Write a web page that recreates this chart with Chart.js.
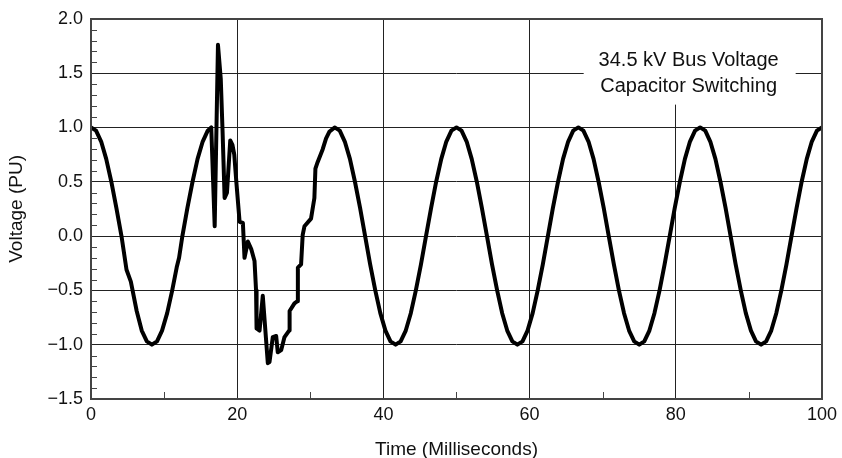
<!DOCTYPE html>
<html>
<head>
<meta charset="utf-8">
<script src="https://cdn.jsdelivr.net/npm/chart.js@4/dist/chart.umd.min.js"></script>
<style>
  html, body { margin: 0; padding: 0; background: #fff; }
  canvas { display: block; }
</style>
</head>
<body>
<canvas id="chart" width="842" height="458"></canvas>
<script>
// 34.5 kV bus voltage (per unit) around a capacitor switching event.

// Normal 60 Hz wave before the switch closes (ms, PU)
const preSwitchTime  = [0, 0.69, 1.39, 2.08, 2.78, 3.47, 4.17, 4.86, 5.45, 6.25, 6.94, 7.64, 8.33,
                        9.03, 9.72, 10.42, 11.11, 11.72, 12.05, 12.5, 13.19, 13.89, 14.58, 15.28, 15.97, 16.45];
const preSwitchVolts = [1.00, 0.97, 0.87, 0.71, 0.50, 0.26, 0.00, -0.31, -0.42, -0.69, -0.87, -0.97, -1.00,
                        -0.97, -0.87, -0.71, -0.50, -0.29, -0.20, 0.00, 0.26, 0.50, 0.71, 0.87, 0.97, 1.00];

// Switching transient
const transientTime  = [16.92, 17.37, 17.75, 18.0, 18.28, 18.6, 19.05, 19.35, 19.6, 19.88, 20.33, 20.78,
                        21.0, 21.46, 21.92, 22.37, 22.58, 22.65, 23.06, 23.5, 24.19, 24.42, 24.87, 25.33,
                        25.55, 26.02, 26.47, 27.1, 27.17, 27.83, 28.25, 28.3, 28.74, 28.96, 29.2, 30.1,
                        30.56, 30.7, 31.0, 31.7, 32.16, 32.6];
const transientVolts = [0.09, 1.76, 1.45, 0.96, 0.35, 0.40, 0.88, 0.84, 0.75, 0.50, 0.13, 0.12,
                        -0.20, -0.05, -0.12, -0.23, -0.50, -0.85, -0.87, -0.55, -1.17, -1.16, -0.93, -0.92,
                        -1.07, -1.05, -0.93, -0.87, -0.69, -0.62, -0.60, -0.29, -0.26, 0.01, 0.09, 0.16,
                        0.35, 0.62, 0.68, 0.80, 0.90, 0.96];

// Wave after the transient has settled
const steadyTime = [33.33, 34.03, 34.72, 35.42, 36.11, 36.81, 37.50, 38.19, 38.89, 39.58, 40.28, 40.97,
                    41.67, 42.36, 43.06, 43.75, 44.44, 45.14, 45.83, 46.53, 47.22, 47.92, 48.61, 49.31,
                    50.00, 50.69, 51.39, 52.08, 52.78, 53.47, 54.17, 54.86, 55.56, 56.25, 56.94, 57.64,
                    58.33, 59.03, 59.72, 60.42, 61.11, 61.81, 62.50, 63.19, 63.89, 64.58, 65.28, 65.97,
                    66.67, 67.36, 68.06, 68.75, 69.44, 70.14, 70.83, 71.53, 72.22, 72.92, 73.61, 74.31,
                    75.00, 75.69, 76.39, 77.08, 77.78, 78.47, 79.17, 79.86, 80.56, 81.25, 81.94, 82.64,
                    83.33, 84.03, 84.72, 85.42, 86.11, 86.81, 87.50, 88.19, 88.89, 89.58, 90.28, 90.97,
                    91.67, 92.36, 93.06, 93.75, 94.44, 95.14, 95.83, 96.53, 97.22, 97.92, 98.61, 99.31,
                    100.00];
const steadyVolts = [1.00, 0.97, 0.87, 0.71, 0.50, 0.26, 0.00, -0.26, -0.50, -0.71, -0.87, -0.97,
                     -1.00, -0.97, -0.87, -0.71, -0.50, -0.26, 0.00, 0.26, 0.50, 0.71, 0.87, 0.97,
                     1.00, 0.97, 0.87, 0.71, 0.50, 0.26, 0.00, -0.26, -0.50, -0.71, -0.87, -0.97,
                     -1.00, -0.97, -0.87, -0.71, -0.50, -0.26, 0.00, 0.26, 0.50, 0.71, 0.87, 0.97,
                     1.00, 0.97, 0.87, 0.71, 0.50, 0.26, 0.00, -0.26, -0.50, -0.71, -0.87, -0.97,
                     -1.00, -0.97, -0.87, -0.71, -0.50, -0.26, 0.00, 0.26, 0.50, 0.71, 0.87, 0.97,
                     1.00, 0.97, 0.87, 0.71, 0.50, 0.26, 0.00, -0.26, -0.50, -0.71, -0.87, -0.97,
                     -1.00, -0.97, -0.87, -0.71, -0.50, -0.26, 0.00, 0.26, 0.50, 0.71, 0.87, 0.97,
                     1.00];

// Axis ranges and text
const xRange = [0, 100];
const yRange = [-1.5, 2.0];
const xMinorTicks = [10, 30, 50, 70, 90];
const xTitle = 'Time (Milliseconds)';
const yTitle = 'Voltage (PU)';
const noteLines = ['34.5 kV Bus Voltage', 'Capacitor Switching'];

const FONT = '"Liberation Sans", Arial, Helvetica, sans-serif';

const toPoints = (ts, vs) => ts.map((t, i) => ({ x: t, y: vs[i] }));
const wave = [
  ...toPoints(preSwitchTime, preSwitchVolts),
  ...toPoints(transientTime, transientVolts),
  ...toPoints(steadyTime, steadyVolts)
];

const minus = s => s.replace('-', '\u2212');

// Frame, inward minor ticks and the boxed note
const framePlugin = {
  id: 'frame',
  beforeDatasetsDraw(chart) {
    const { ctx, scales: { x, y }, chartArea: a } = chart;
    // white panel behind the note, hiding the grid under it
    const l = x.getPixelForValue(67.4), r = x.getPixelForValue(96.4);
    const b = y.getPixelForValue(1.21);
    ctx.save();
    ctx.fillStyle = '#fff';
    ctx.fillRect(l, a.top + 1, r - l, b - a.top - 1);
    ctx.fillStyle = '#111';
    ctx.font = '20px ' + FONT;
    ctx.textAlign = 'center';
    ctx.textBaseline = 'middle';
    const cx = (l + r) / 2 - 1;
    ctx.fillText(noteLines[0], cx, a.top + 42);
    ctx.fillText(noteLines[1], cx, a.top + 68);
    ctx.restore();
  },
  afterDraw(chart) {
    const { ctx, scales: { x, y }, chartArea: a } = chart;
    ctx.save();
    ctx.strokeStyle = '#444';
    ctx.lineWidth = 1;
    ctx.beginPath();
    for (let i = Math.round(yRange[0] * 10) + 1; i < Math.round(yRange[1] * 10); i++) {
      if (i % 5 === 0) continue;
      const py = Math.round(y.getPixelForValue(i / 10)) + 0.5;
      ctx.moveTo(a.left, py);
      ctx.lineTo(a.left + 6, py);
    }
    xMinorTicks.forEach(v => {
      const px = Math.round(x.getPixelForValue(v)) + 0.5;
      ctx.moveTo(px, a.bottom);
      ctx.lineTo(px, a.bottom - 7);
    });
    ctx.stroke();
    ctx.lineWidth = 2;
    ctx.strokeStyle = '#444';
    ctx.strokeRect(Math.round(a.left), Math.round(a.top), Math.round(a.right - a.left), Math.round(a.bottom - a.top));
    ctx.restore();
  }
};

new Chart(document.getElementById('chart'), {
  type: 'line',
  data: {
    datasets: [{
      data: wave,
      borderColor: '#000',
      borderWidth: 4,
      borderJoinStyle: 'round',
      borderCapStyle: 'round',
      pointRadius: 0,
      tension: 0,
      fill: false
    }]
  },
  options: {
    responsive: false,
    animation: false,
    events: [],
    layout: { padding: { top: 15, right: 19, left: 0, bottom: 0 } },
    plugins: { legend: { display: false }, tooltip: { enabled: false } },
    scales: {
      x: {
        type: 'linear',
        min: xRange[0], max: xRange[1],
        afterFit: s => { s.height = 59; },
        border: { display: false },
        grid: { color: '#222', lineWidth: 1, drawTicks: false },
        ticks: {
          stepSize: 20, padding: 5, color: '#111',
          font: { family: FONT, size: 18 },
          maxRotation: 0
        },
        title: {
          display: true, text: xTitle, color: '#111',
          font: { family: FONT, size: 19, lineHeight: 1 },
          padding: { top: 0, bottom: -1 }
        }
      },
      y: {
        type: 'linear',
        min: yRange[0], max: yRange[1],
        afterFit: s => { s.width = 91; },
        border: { display: false },
        grid: { color: '#222', lineWidth: 1, drawTicks: false },
        ticks: {
          stepSize: 0.5, padding: 8, color: '#111',
          font: { family: FONT, size: 18 },
          callback: v => minus(Number(v).toFixed(1))
        },
        title: {
          display: true, text: yTitle, color: '#111',
          font: { family: FONT, size: 19, lineHeight: 1 },
          padding: { top: 7, bottom: 0 }
        }
      }
    }
  },
  plugins: [framePlugin]
});
</script>
</body>
</html>
